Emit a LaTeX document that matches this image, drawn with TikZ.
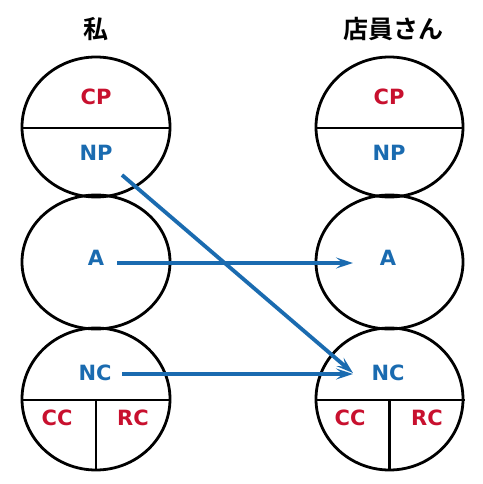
\documentclass[tikz,border=0pt]{standalone}
\usepackage{fontspec}
\setmainfont{DejaVu Sans}
\newfontfamily\cjk{Noto Sans CJK JP}[BoldFont={Noto Sans CJK JP Bold}]
\usetikzlibrary{arrows.meta}
\definecolor{myblue}{HTML}{1A6BB0}
\definecolor{myred}{HTML}{C8102E}
\begin{document}
\begin{tikzpicture}[x=1pt,y=-1pt,
  oval/.style={draw=black,line width=2.8pt},
  div/.style={draw=black,line width=2.8pt},
  lblue/.style={text=myblue,font=\bfseries\fontsize{21}{21}\selectfont},
  lred/.style={text=myred,font=\bfseries\fontsize{21}{21}\selectfont},
  ttl/.style={font=\cjk\bfseries\fontsize{25}{25}\selectfont},
  arr/.style={draw=myblue,line width=3.8pt,-{Stealth[length=17pt,width=11pt,inset=7pt]}}]
\useasboundingbox (0,0) rectangle (482,484);
% titles
\node[ttl] (t1) at (96,29) {私};
\node[ttl] (t2) at (393,29) {店員さん};
% left column
\draw[oval] (96,127) ellipse [x radius=74,y radius=70];
\draw[div] (22,128) -- (170,128);
\draw[oval] (96,262) ellipse [x radius=74,y radius=67];
\draw[oval] (96,399) ellipse [x radius=74,y radius=71];
\draw[div] (22,400) -- (170,400);
\draw[div] (96,400) -- (96,470);
% right column
\draw[oval] (389.5,127) ellipse [x radius=73.5,y radius=70];
\draw[div] (316,128) -- (463,128);
\draw[oval] (389.5,262) ellipse [x radius=73.5,y radius=67];
\draw[oval] (389.5,399) ellipse [x radius=73.5,y radius=71];
\draw[div] (316,400) -- (465,400);
\draw[div] (389.5,400) -- (389.5,470);
% labels left
\node[lred] (cpL) at (96,97) {CP};
\node[lblue] (npL) at (96,153) {NP};
\node[lblue] (aL) at (96,258) {A};
\node[lblue] (ncL) at (95,373) {NC};
\node[lred] (ccL) at (57,418) {CC};
\node[lred] (rcL) at (133,418) {RC};
% labels right
\node[lred] (cpR) at (389,97) {CP};
\node[lblue] (npR) at (389,153) {NP};
\node[lblue] (aR) at (388,258) {A};
\node[lblue] (ncR) at (388,373) {NC};
\node[lred] (ccR) at (350,418) {CC};
\node[lred] (rcR) at (427,418) {RC};
% arrow anchors
\coordinate (s1) at (122,175);
\coordinate (e1) at (353,373);
\coordinate (s2) at (117,263);
\coordinate (e2) at (353,263);
\coordinate (s3) at (122,374);
\coordinate (e3) at (353,374);
\draw[arr] (s2) -- (e2);
\draw[arr] (s3) -- (e3);
\draw[arr] (s1) -- (e1);
\end{tikzpicture}
\end{document}
